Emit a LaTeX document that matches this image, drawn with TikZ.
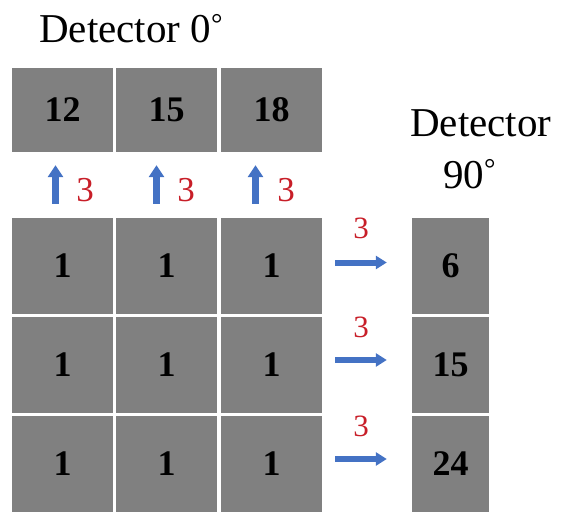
\documentclass[tikz,border=0pt]{standalone}
\usepackage{fontspec}
\setmainfont{Liberation Serif}
\usetikzlibrary{arrows.meta}
\definecolor{cellgray}{RGB}{128,128,128}
\definecolor{flowblue}{RGB}{68,114,196}
\definecolor{countred}{RGB}{200,30,40}
\tikzset{
  cell/.style={fill=cellgray, draw=none, inner sep=0pt, minimum width=101pt,
               minimum height=96pt, font=\fontsize{36}{40}\selectfont\bfseries},
  topcell/.style={cell, minimum height=84pt},
  sidecell/.style={cell, minimum width=77pt},
  title/.style={font=\fontsize{41}{49}\selectfont, inner sep=0pt},
  upflow/.style={draw=flowblue, line width=7pt,
                 -{Triangle[length=12pt,width=15pt]}},
  rightflow/.style={draw=flowblue, line width=6pt,
                 -{Triangle[length=11pt,width=13pt]}},
  upcount/.style={text=countred, inner sep=0pt, anchor=base,
                  font=\fontsize{35}{40}\selectfont},
  sidecount/.style={text=countred, inner sep=0pt, anchor=base,
                  font=\fontsize{31}{36}\selectfont},
}
\begin{document}
\begin{tikzpicture}[x=1pt,y=-1pt]
\useasboundingbox (0,0) rectangle (564,513);

% detector labels
\node[title, anchor=base west] (d0) at (39,43) {Detector 0\textsuperscript{°}};
\node[title, anchor=base west] (d90a) at (410,137) {Detector};
\node[title, anchor=base west] (d90b) at (443,188) {90\textsuperscript{°}};

% projections onto the 0 degree detector
\node[topcell] (t1) at (62.5,110) {12};
\node[topcell] (t2) at (166.5,110) {15};
\node[topcell] (t3) at (271.5,110) {18};

% the 3x3 object
\node[cell] (m11) at (62.5,266) {1};
\node[cell] (m12) at (166.5,266) {1};
\node[cell] (m13) at (271.5,266) {1};
\node[cell] (m21) at (62.5,365) {1};
\node[cell] (m22) at (166.5,365) {1};
\node[cell] (m23) at (271.5,365) {1};
\node[cell] (m31) at (62.5,464) {1};
\node[cell] (m32) at (166.5,464) {1};
\node[cell] (m33) at (271.5,464) {1};

% projections onto the 90 degree detector
\node[sidecell] (s1) at (450.5,266) {6};
\node[sidecell] (s2) at (450.5,365) {15};
\node[sidecell] (s3) at (450.5,464) {24};

% column sums flowing up
\draw[upflow, shorten <=14pt, shorten >=13pt]
  ([xshift=-7pt]m11.north) -- ([xshift=-7pt]t1.south);
\draw[upflow, shorten <=14pt, shorten >=13pt]
  ([xshift=-10pt]m12.north) -- ([xshift=-10pt]t2.south);
\draw[upflow, shorten <=14pt, shorten >=13pt]
  ([xshift=-16pt]m13.north) -- ([xshift=-16pt]t3.south);
\node[upcount] (u1) at (85,201) {3};
\node[upcount] (u2) at (186,201) {3};
\node[upcount] (u3) at (286,201) {3};

% row sums flowing right
\draw[rightflow, shorten <=13pt, shorten >=25pt]
  ([yshift=3.5pt]m13.east) -- ([yshift=3.5pt]s1.west);
\draw[rightflow, shorten <=13pt, shorten >=25pt]
  ([yshift=5pt]m23.east) -- ([yshift=5pt]s2.west);
\draw[rightflow, shorten <=13pt, shorten >=25pt]
  ([yshift=5pt]m33.east) -- ([yshift=5pt]s3.west);
\node[sidecount] (r1) at (361,238) {3};
\node[sidecount] (r2) at (361,337) {3};
\node[sidecount] (r3) at (361,436) {3};
\end{tikzpicture}
\end{document}
